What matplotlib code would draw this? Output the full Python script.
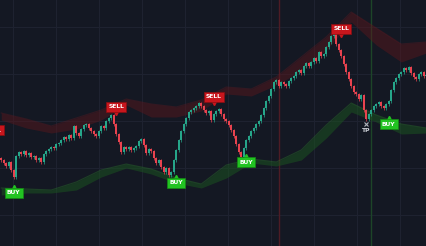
import numpy as np
import matplotlib
matplotlib.use("Agg")
import matplotlib.pyplot as plt

# ---------------- data ----------------
first_open = 88
closes = [86, 83, 80, 84, 76, 69, 90, 94, 92, 95,
          91, 93, 89, 90, 86, 88, 84, 92, 95, 97,
          99, 98, 102, 103, 106, 109, 107, 111, 108, 120,
          113, 110, 117, 121, 122, 118, 115, 112, 110, 115,
          120, 118, 125, 128, 131, 122, 112, 104, 94, 99,
          97, 99, 96, 98, 100, 105, 107, 101, 93, 97,
          95, 88, 83, 86, 79, 74, 78, 71, 74, 86,
          96, 106, 115, 122, 128, 134, 136, 138, 140, 143,
          140, 136, 133, 135, 126, 132, 135, 137, 132, 127,
          125, 121, 116, 110, 102, 94, 89, 98, 106, 110,
          115, 118, 122, 125, 131, 138, 145, 150, 157, 164,
          166, 160, 164, 162, 160, 165, 168, 170, 174, 176,
          173, 180, 183, 180, 184, 188, 185, 194, 190, 192,
          199, 204, 210, 212, 202, 196, 190, 182, 174, 167,
          160, 154, 152, 147, 151, 136, 127, 132, 136, 140,
          142, 144, 140, 138, 142, 145, 156, 164, 168, 172,
          174, 178, 176, 179, 173, 169, 167, 172, 174, 170,
          171]

band_idx = [0, 10, 20, 30, 40, 50, 60, 70, 80, 90, 100, 110, 120, 130, 140, 150, 160, 170]
red_top = [133, 127, 120, 128, 136, 147, 142, 139, 146, 159, 157, 169, 189, 209, 234, 218, 202, 204]
red_bot = [126, 118, 113, 117, 126, 141, 129, 129, 135, 152, 150, 161, 175, 196, 224, 201, 184, 193]
green_top = [58, 57, 56, 64, 76, 82, 77, 68, 62, 81, 87, 84, 96, 121, 143, 131, 122, 118]
green_bot = [51, 53, 53, 56, 69, 78, 72, 63, 58, 68, 83, 80, 86, 108, 134, 124, 112, 113]

sell_idx = [-3, 46, 85, 136]
sell_lvl = [116, 139, 149, 217]
buy_idx = [5, 70, 98, 155]
buy_lvl = [53, 63, 84, 122]
tp_idx = [146]
tp_lvl = [122]
line_red_idx = 111
line_green_idx = 148

# ---------------- style ----------------
BG = "#141823"
GRID = "#1e2230"
UP = "#26a68a"
DN = "#e8434f"
WICK = 1.5

fig = plt.figure(figsize=(4.27, 2.46), dpi=100)
fig.patch.set_facecolor(BG)
ax = fig.add_axes([0, 0, 1, 1])
ax.set_facecolor(BG)
ax.set_xlim(-0.5, 170.3)
ax.set_ylim(0, 246)

ax.set_xticks(np.arange(4.7, 171, 17.2))
ax.set_yticks(np.arange(31, 246, 47))
ax.grid(True, color=GRID, linewidth=0.8)
ax.tick_params(length=0, labelbottom=False, labelleft=False)
for s in ax.spines.values():
    s.set_visible(False)
ax.set_axisbelow(True)

ax.axvline(line_red_idx, color="#4e1c25", linewidth=1.0, zorder=1)
ax.axvline(line_green_idx, color="#1d4528", linewidth=1.0, zorder=1)

# bands (soft, layered for a wispy look)
ax.fill_between(band_idx, red_bot, red_top, color="#5e161c", alpha=0.45, linewidth=0, zorder=2)
ax.plot(band_idx, red_top, color="#6a1a20", alpha=0.35, linewidth=0.8, zorder=2)
ax.fill_between(band_idx, green_bot, green_top, color="#1b5220", alpha=0.55, linewidth=0, zorder=2)
ax.plot(band_idx, green_top, color="#2a6e2c", alpha=0.45, linewidth=0.8, zorder=2)

# candles
c = np.array(closes, dtype=float)
o = np.concatenate([[first_open], c[:-1]])
x = np.arange(len(c))
colors = [UP if cc >= oo else DN for oo, cc in zip(o, c)]
lo = np.minimum(o, c)
hi = np.maximum(o, c)
ax.vlines(x, lo - WICK, hi + WICK, colors=colors, linewidth=0.5, zorder=3)
ax.bar(x, hi - lo + 0.6, bottom=lo - 0.3, width=0.7, color=colors, linewidth=0, zorder=4)

# labels
for i, lv in zip(sell_idx, sell_lvl):
    ax.plot(i, lv - 6, marker="v", color="#c8161d", markersize=3, zorder=5, clip_on=True)
    ax.text(i, lv, "SELL", ha="center", va="center", fontsize=4.3, color="white",
            fontweight="bold", zorder=6,
            bbox=dict(boxstyle="square,pad=0.35", facecolor="#c8161d", edgecolor="#8a0e12", linewidth=0.5))
for i, lv in zip(buy_idx, buy_lvl):
    ax.plot(i, lv + 6, marker="^", color="#22c322", markersize=3, zorder=5)
    ax.text(i, lv, "BUY", ha="center", va="center", fontsize=4.3, color="white",
            fontweight="bold", zorder=6,
            bbox=dict(boxstyle="square,pad=0.35", facecolor="#22c322", edgecolor="#158a15", linewidth=0.5))
for i, lv in zip(tp_idx, tp_lvl):
    ax.plot(i, lv, marker="x", color="#b0b4bc", markersize=3, markeredgewidth=0.8, zorder=6)
    ax.text(i, lv - 7, "TP", ha="center", va="center", fontsize=4.3, color="#d0d3da",
            fontweight="bold", zorder=6)

fig.savefig("out.png", dpi=100, facecolor=BG)
